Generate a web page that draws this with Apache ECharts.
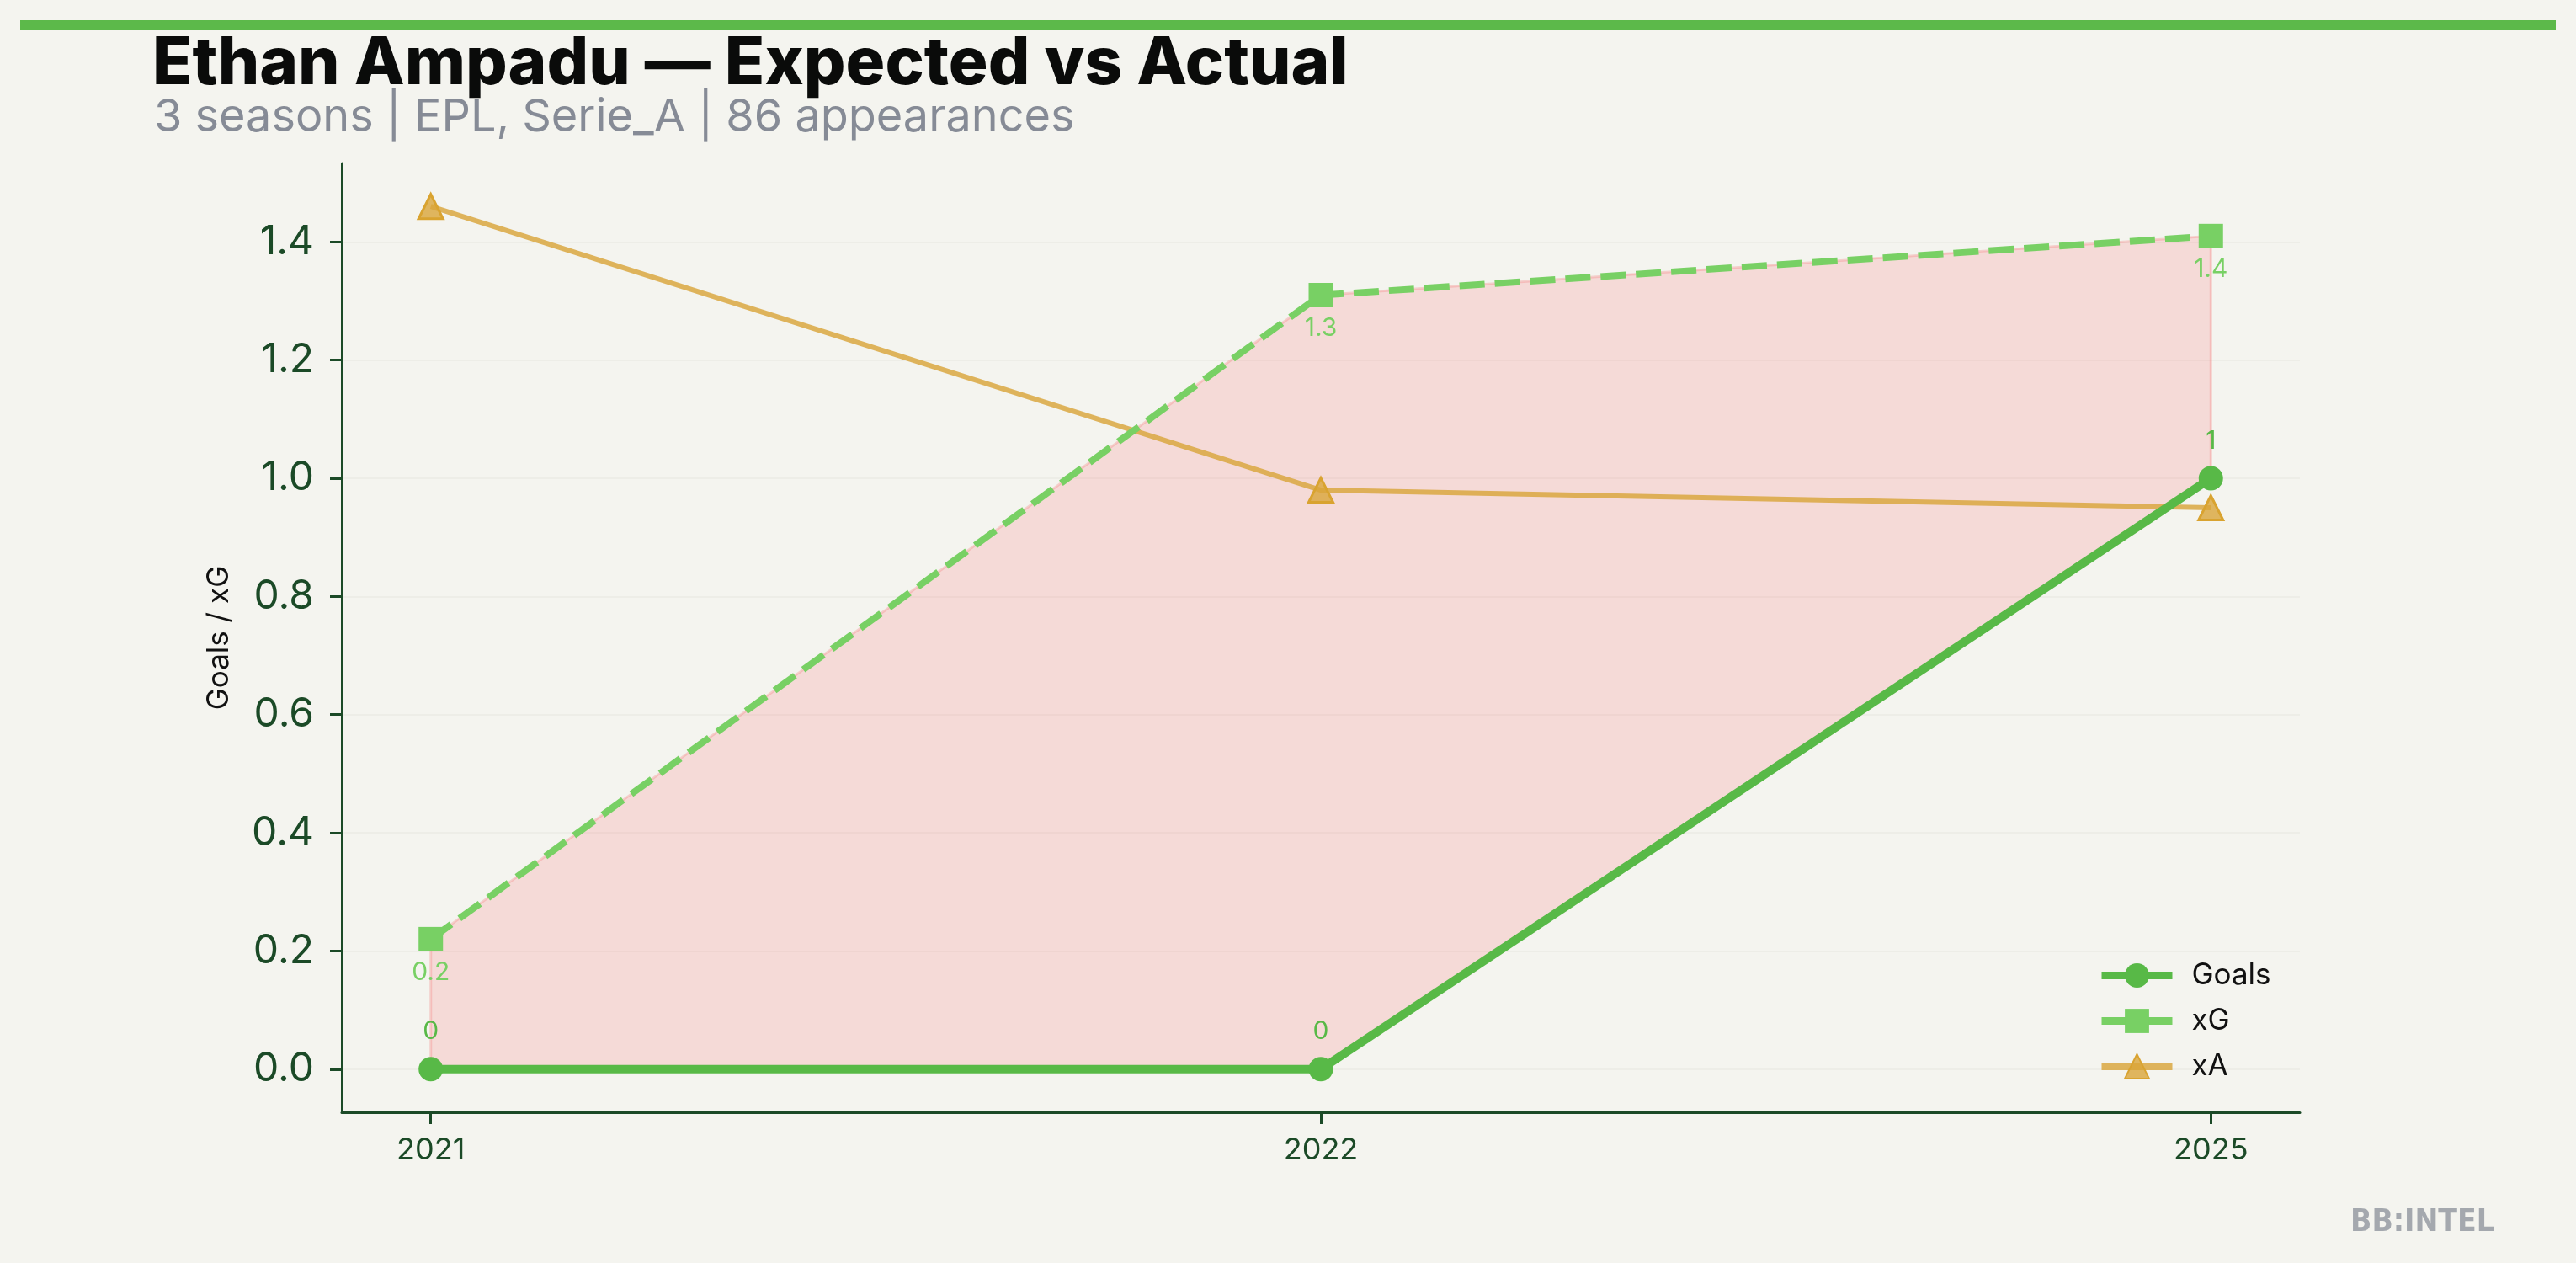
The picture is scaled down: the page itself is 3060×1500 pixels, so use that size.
<!DOCTYPE html>
<html>
<head>
<meta charset="utf-8">
<script src="https://cdn.jsdelivr.net/npm/echarts@6/dist/echarts.min.js"></script>
<style>
  html, body { margin: 0; padding: 0; background: #f4f4ef; }
  #chart { width: 3060px; height: 1500px; }
</style>
</head>
<body>
<div id="chart"></div>
<script>
// ---- data ----
const seasons = ['2021', '2022', '2025'];
const goals = [0, 0, 1];
const xG = [0.22, 1.31, 1.41];
const xA = [1.46, 0.98, 0.95];
const yTicks = [0, 0.2, 0.4, 0.6, 0.8, 1.0, 1.2, 1.4];
const xgLabels = ['0.2', '1.3', '1.4'];
const goalLabels = ['0', '0', '1'];

const titleText = 'Ethan Ampadu \u2014 Expected vs Actual';
const subtitleText = '3 seasons | EPL, Serie_A | 86 appearances';

// ---- derived axis extents (matplotlib-style 5% margins) ----
const allVals = goals.concat(xG, xA);
const hi = Math.max.apply(null, allVals), lo = Math.min.apply(null, allVals);
const yPad = (hi - lo) * 0.05;
const xIdx = seasons.map((s, i) => i);
const xPad = (seasons.length - 1) * 0.05;

const cGoals = '#58b947';
const cXG = '#78d064';
const axisColor = '#1b4a27';

const chart = echarts.init(document.getElementById('chart'), null, { renderer: 'canvas' });

const option = {
  backgroundColor: '#f4f4ef',
  animation: false,
  title: [
    {
      text: titleText, left: 176, top: 33,
      textStyle: { fontFamily: 'Inter', fontWeight: 800, fontSize: 78, color: '#0a0b0a' }
    },
    {
      text: subtitleText, left: 178, top: 108,
      textStyle: { fontFamily: 'Inter', fontWeight: 400, fontSize: 54, color: '#868b96' }
    },
    {
      text: 'BB:INTEL', right: 92, top: 1429,
      textStyle: { fontFamily: 'DejaVu Sans Condensed', fontWeight: 'bold', fontSize: 37, color: '#a4a8ae' }
    }
  ],
  graphic: [
    { type: 'rect', shape: { x: 24, y: 24, width: 3012, height: 12 }, style: { fill: '#5cb94a' }, silent: true }
  ],
  grid: { left: 406, right: 328, top: 194, bottom: 179, containLabel: false },
  legend: {
    orient: 'vertical', left: 2487, top: 1136,
    itemWidth: 84, itemHeight: 36, itemGap: 19,
    textStyle: { fontFamily: 'Inter', fontSize: 35, color: '#111', padding: [0, 0, 0, 18] },
    data: [
      { name: 'Goals', lineStyle: { width: 9 } },
      { name: 'xG', lineStyle: { type: 'solid', width: 9 } },
      { name: 'xA', lineStyle: { width: 9 } }
    ]
  },
  xAxis: {
    type: 'value', min: -xPad, max: (seasons.length - 1) + xPad,
    axisLine: { show: true, onZero: false, lineStyle: { color: axisColor, width: 3 } },
    axisTick: { show: true, customValues: xIdx, length: 14, lineStyle: { color: axisColor, width: 3 } },
    axisLabel: {
      customValues: xIdx, margin: 27,
      formatter: v => seasons[Math.round(v)],
      fontFamily: 'Inter', fontSize: 36, color: axisColor
    },
    splitLine: { show: false }
  },
  yAxis: {
    type: 'value', min: lo - yPad, max: hi + yPad,
    name: 'Goals / xG', nameLocation: 'middle', nameGap: 128, nameRotate: 90,
    nameTextStyle: { fontFamily: 'Inter', fontSize: 35, color: '#111' },
    axisLine: { show: true, onZero: false, lineStyle: { color: axisColor, width: 3 } },
    axisTick: { show: true, customValues: yTicks, length: 14, lineStyle: { color: axisColor, width: 3 } },
    axisLabel: {
      customValues: yTicks, margin: 33,
      formatter: v => v.toFixed(1),
      fontFamily: 'Inter', fontSize: 48, color: axisColor
    },
    splitLine: { show: true, lineStyle: { color: '#ededE7', width: 2 } }
  },
  series: [
    {
      type: 'custom', name: 'gap', silent: true, z: 1,
      data: [[0, 0]],
      renderItem: function (params, api) {
        const pts = [];
        for (let i = 0; i < seasons.length; i++) pts.push(api.coord([i, xG[i]]));
        for (let i = seasons.length - 1; i >= 0; i--) pts.push(api.coord([i, goals[i]]));
        return {
          type: 'polygon',
          shape: { points: pts },
          style: { fill: 'rgba(250,100,105,0.18)', stroke: 'rgba(245,110,110,0.28)', lineWidth: 3 }
        };
      }
    },
    {
      name: 'xA', type: 'line', z: 3,
      data: xIdx.map(i => [i, xA[i]]),
      symbol: 'triangle', symbolSize: 29,
      lineStyle: { color: 'rgba(217,165,58,0.82)', width: 6 },
      itemStyle: { color: 'rgba(217,165,58,0.8)', borderColor: '#d9a330', borderWidth: 3 },
      label: { show: false }
    },
    {
      name: 'xG', type: 'line', z: 4,
      data: xIdx.map(i => [i, xG[i]]),
      symbol: 'rect', symbolSize: 29,
      lineStyle: { color: cXG, width: 8, type: [30, 12] },
      itemStyle: { color: cXG },
      label: {
        show: true, position: 'bottom', distance: 10,
        formatter: p => xgLabels[p.dataIndex],
        fontFamily: 'Inter', fontSize: 30, color: cXG
      }
    },
    {
      name: 'Goals', type: 'line', z: 5,
      data: xIdx.map(i => [i, goals[i]]),
      symbol: 'circle', symbolSize: 29,
      lineStyle: { color: cGoals, width: 10 },
      itemStyle: { color: cGoals },
      label: {
        show: true, position: 'top', distance: 15,
        formatter: p => goalLabels[p.dataIndex],
        fontFamily: 'Inter', fontSize: 30, color: cGoals
      }
    }
  ]
};
chart.setOption(option);
</script>
</body>
</html>
